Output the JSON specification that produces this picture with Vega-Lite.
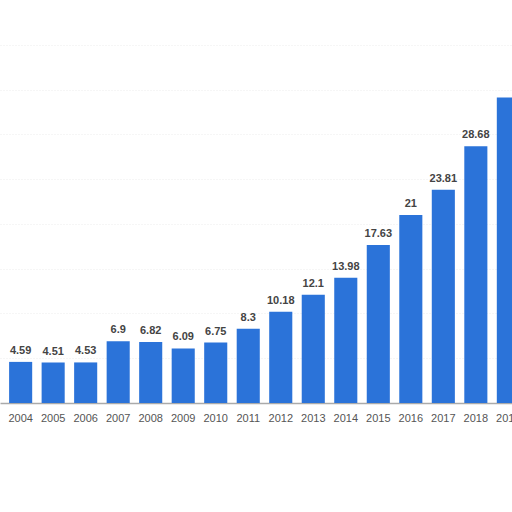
{
  "$schema": "https://vega.github.io/schema/vega-lite/v6.json",
  "width": 512,
  "height": 403,
  "autosize": {"type": "none"},
  "padding": {"left": 0, "top": 0, "right": 0, "bottom": 109},
  "background": "white",
  "config": {
    "view": {"stroke": null},
    "font": "Liberation Sans"
  },
  "data": {
    "values": [
      {"year": "2004", "value": 4.59, "label": "4.59"},
      {"year": "2005", "value": 4.51, "label": "4.51"},
      {"year": "2006", "value": 4.53, "label": "4.53"},
      {"year": "2007", "value": 6.9, "label": "6.9"},
      {"year": "2008", "value": 6.82, "label": "6.82"},
      {"year": "2009", "value": 6.09, "label": "6.09"},
      {"year": "2010", "value": 6.75, "label": "6.75"},
      {"year": "2011", "value": 8.3, "label": "8.3"},
      {"year": "2012", "value": 10.18, "label": "10.18"},
      {"year": "2013", "value": 12.1, "label": "12.1"},
      {"year": "2014", "value": 13.98, "label": "13.98"},
      {"year": "2015", "value": 17.63, "label": "17.63"},
      {"year": "2016", "value": 21.0, "label": "21"},
      {"year": "2017", "value": 23.81, "label": "23.81"},
      {"year": "2018", "value": 28.68, "label": "28.68"},
      {"year": "2019", "value": 34.1, "label": ""}
    ]
  },
  "encoding": {
    "x": {
      "field": "year",
      "type": "ordinal",
      "title": null,
      "scale": {"range": [0, 529], "paddingInner": 0.29, "paddingOuter": 0.28},
      "axis": {
        "labelAngle": 0,
        "labelFontSize": 11,
        "labelColor": "#555555",
        "labelPadding": 9,
        "ticks": false,
        "domainColor": "#aaaaaa",
        "domainWidth": 1.5
      }
    },
    "y": {
      "field": "value",
      "type": "quantitative",
      "title": null,
      "scale": {"domain": [0, 45]},
      "axis": {
        "labels": false,
        "ticks": false,
        "domain": false,
        "values": [5, 10, 15, 20, 25, 30, 35, 40],
        "gridColor": "#ececec",
        "gridDash": [1, 2]
      }
    }
  },
  "layer": [
    {
      "mark": {"type": "bar", "color": "#2b73d9"}
    },
    {
      "mark": {
        "type": "text",
        "baseline": "bottom",
        "dy": -6,
        "fontSize": 11,
        "fontWeight": "bold",
        "color": "#444444"
      },
      "encoding": {
        "text": {"field": "label", "type": "nominal"}
      }
    }
  ]
}
